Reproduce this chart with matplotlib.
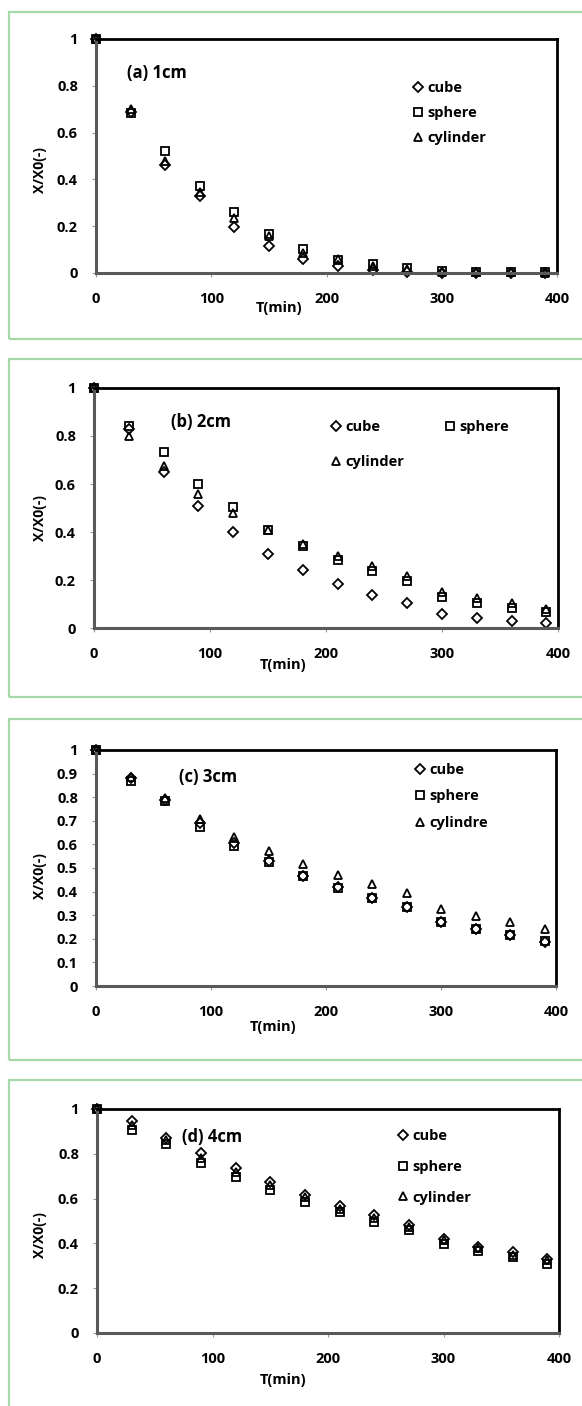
import numpy as np
import matplotlib
matplotlib.use("Agg")
import matplotlib.pyplot as plt
from matplotlib.patches import Rectangle

plt.rcParams['font.family'] = ['Open Sans', 'DejaVu Sans']
plt.rcParams['font.weight'] = 'bold'

W, H = 582, 1406

t = [0, 30, 60, 90, 120, 150, 180, 210, 240, 270, 300, 330, 360, 390]

# 1cm
cube_1 = [1, 0.69, 0.46, 0.33, 0.195, 0.115, 0.06, 0.03, 0.012, 0.005, 0.002, 0.001, 0.0, 0.0]
sphere_1 = [1, 0.685, 0.52, 0.37, 0.26, 0.168, 0.103, 0.055, 0.037, 0.02, 0.008, 0.006, 0.005, 0.004]
cyl_1 = [1, 0.70, 0.48, 0.345, 0.235, 0.16, 0.085, 0.06, 0.03, 0.015, 0.005, 0.003, 0.003, 0.002]

# 2cm
cube_2 = [1, 0.83, 0.65, 0.51, 0.40, 0.31, 0.243, 0.183, 0.139, 0.104, 0.058, 0.042, 0.03, 0.021]
sphere_2 = [1, 0.843, 0.735, 0.60, 0.503, 0.41, 0.34, 0.282, 0.239, 0.197, 0.128, 0.104, 0.083, 0.065]
cyl_2 = [1, 0.80, 0.675, 0.56, 0.48, 0.41, 0.35, 0.30, 0.26, 0.215, 0.15, 0.125, 0.104, 0.079]

# 3cm
cube_3 = [1, 0.88, 0.79, 0.69, 0.605, 0.53, 0.465, 0.42, 0.375, 0.335, 0.27, 0.24, 0.215, 0.185]
sphere_3 = [1, 0.87, 0.784, 0.675, 0.594, 0.525, 0.468, 0.417, 0.375, 0.335, 0.273, 0.243, 0.218, 0.191]
cyl_3 = [1, 0.884, 0.795, 0.706, 0.632, 0.571, 0.519, 0.472, 0.434, 0.396, 0.328, 0.298, 0.27, 0.24]

# 4cm
cube_4 = [1, 0.945, 0.87, 0.803, 0.736, 0.676, 0.615, 0.565, 0.525, 0.48, 0.42, 0.385, 0.36, 0.33]
sphere_4 = [1, 0.907, 0.843, 0.761, 0.696, 0.639, 0.587, 0.542, 0.497, 0.46, 0.397, 0.366, 0.34, 0.31]
cyl_4 = [1, 0.93, 0.86, 0.78, 0.72, 0.66, 0.605, 0.555, 0.515, 0.475, 0.415, 0.38, 0.35, 0.325]

panels = [
    dict(title='(a) 1cm', cube=cube_1, sphere=sphere_1, cyl=cyl_1, cyl_name='cylinder',
         box=(12, 339), ax=(96, 39, 557, 273), ystep=0.2,
         tlabel=(127, 73), xlab=(279, 308), ylab=(40, 170),
         leg=(413, 81), lsp=0.75, ncol=1),
    dict(title='(b) 2cm', cube=cube_2, sphere=sphere_2, cyl=cyl_2, cyl_name='cylinder',
         box=(359, 697), ax=(94, 388, 558, 628), ystep=0.2,
         tlabel=(171, 422), xlab=(283, 665), ylab=(40, 518),
         leg=(331, 420), lsp=1.45, ncol=2),
    dict(title='(c) 3cm', cube=cube_3, sphere=sphere_3, cyl=cyl_3, cyl_name='cylindre',
         box=(719, 1060), ax=(96, 750, 556, 986), ystep=0.1,
         tlabel=(179, 777), xlab=(273, 1027), ylab=(40, 876),
         leg=(415, 763), lsp=0.85, ncol=1),
    dict(title='(d) 4cm', cube=cube_4, sphere=sphere_4, cyl=cyl_4, cyl_name='cylinder',
         box=(1080, 1430), ax=(97, 1109, 559, 1333), ystep=0.2,
         tlabel=(182, 1137), xlab=(283, 1380), ylab=(40, 1235),
         leg=(398, 1129), lsp=1.15, ncol=1),
]

fig = plt.figure(figsize=(W / 100, H / 100), dpi=100)

gray = '#595959'
green = '#a6d9a8'
fs = 10.5

for p in panels:
    y0, y1 = p['box']
    fig.patches.append(Rectangle((9 / W, 1 - y1 / H), (620 - 9) / W, (y1 - y0) / H,
                                 transform=fig.transFigure, fill=False,
                                 edgecolor=green, lw=1.6, clip_on=False))

    l, tp, r, b = p['ax']
    ax = fig.add_axes([l / W, 1 - b / H, (r - l) / W, (b - tp) / H])
    kw = dict(linestyle='none', mfc='none', mec='black', mew=1.3, clip_on=False)
    h_cube, = ax.plot(t, p['cube'], marker='D', ms=5.4, label='cube', **kw)
    h_sph, = ax.plot(t, p['sphere'], marker='s', ms=6.4, label='sphere', **kw)
    h_cyl, = ax.plot(t, p['cyl'], marker='^', ms=6.4, label=p['cyl_name'], **kw)

    ax.set_xlim(0, 400)
    ax.set_ylim(0, 1)
    ax.set_xticks(np.arange(0, 401, 100))
    yt = np.round(np.arange(0, 1.0001, p['ystep']), 1)
    ax.set_yticks(yt)
    ax.set_yticklabels(['%g' % v for v in yt])
    for s in ['top', 'right']:
        ax.spines[s].set_color('black')
        ax.spines[s].set_linewidth(2.0)
    for s in ['left', 'bottom']:
        ax.spines[s].set_color(gray)
        ax.spines[s].set_linewidth(2.2)
    ax.tick_params(axis='x', direction='out', length=3, width=0.8, color='#999999',
                   pad=11, labelsize=fs)
    ax.tick_params(axis='y', direction='out', length=3, width=0.8, color='#999999',
                   pad=10, labelsize=fs)
    for lab in ax.get_xticklabels() + ax.get_yticklabels():
        lab.set_fontweight('bold')

    tx, ty = p['tlabel']
    fig.text(tx / W, 1 - ty / H, p['title'], fontsize=12, fontweight='bold',
             ha='left', va='center')
    xx, xy = p['xlab']
    fig.text(xx / W, 1 - xy / H, 'T(min)', fontsize=fs, fontweight='bold',
             ha='center', va='center')
    yx, yy = p['ylab']
    fig.text(yx / W, 1 - yy / H, 'X/X0(-)', fontsize=fs - 0.5, fontweight='bold',
             ha='center', va='center', rotation=90)

    if p['ncol'] == 2:
        handles = [h_cube, h_cyl, h_sph]
    else:
        handles = [h_cube, h_sph, h_cyl]
    lx, ly = p['leg']
    ax.legend(handles=handles, loc='upper left',
              bbox_to_anchor=(lx / W, 1 - ly / H), bbox_transform=fig.transFigure,
              frameon=False, ncol=p['ncol'], borderpad=0, borderaxespad=0,
              handlelength=0.7, handletextpad=0.3, labelspacing=p['lsp'],
              columnspacing=2.8, prop=dict(size=fs, weight='bold'))

fig.savefig('out.png', dpi=100)
